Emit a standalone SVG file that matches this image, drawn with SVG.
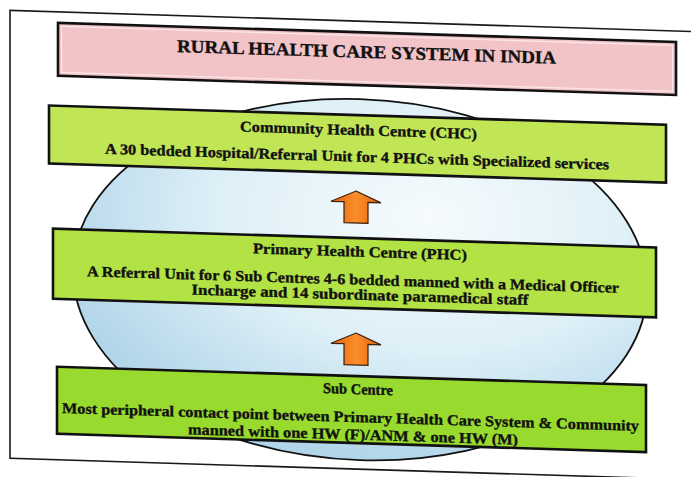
<svg xmlns="http://www.w3.org/2000/svg" width="691" height="477" viewBox="0 0 691 477">
  <defs>
    <radialGradient id="ellGrad" cx="0.62" cy="0.32" r="0.75">
      <stop offset="0" stop-color="#f6fbfd"/>
      <stop offset="0.5" stop-color="#ddeff7"/>
      <stop offset="1" stop-color="#a9d0e6"/>
    </radialGradient>
    <linearGradient id="arrowGrad" x1="0" y1="0" x2="1" y2="0">
      <stop offset="0" stop-color="#e6600c"/>
      <stop offset="0.5" stop-color="#fb8f2c"/>
      <stop offset="1" stop-color="#e6600c"/>
    </linearGradient>
    <style>
      .frame { fill: #ffffff; stroke: #1a1a1a; stroke-width: 1.6; }
      .ell { fill: url(#ellGrad); stroke: #111111; stroke-width: 1.8; }
      .pink { fill: #f2c3c7; stroke: #111111; stroke-width: 2.6; }
      .pinkInner { fill: none; stroke: #fbe9ea; stroke-width: 1.2; }
      .green { stroke: #111111; stroke-width: 2.6; }
      .arrow { fill: url(#arrowGrad); stroke: #3a2010; stroke-width: 1.2; }
      text { font-family: "Liberation Serif", "Times New Roman", serif; font-weight: bold; fill: #111111; stroke: #111111; stroke-width: 0.35; text-anchor: middle; }
      .title { font-size: 18px; }
      .t { font-size: 15px; }
    </style>
  </defs>
  <rect x="0" y="0" width="691" height="477" fill="#ffffff"/>
  <g transform="skewY(1.78)">
    <rect class="frame" x="10" y="10" width="700" height="448"/>
    <ellipse class="ell" cx="360" cy="268.5" rx="287" ry="180.5"/>

    <g id="title">
      <rect class="pink" x="58" y="21" width="618" height="53"/>
      <rect class="pinkInner" x="61.5" y="24.5" width="611" height="46"/>
      <text class="title" x="366.5" y="46.5" textLength="379" lengthAdjust="spacingAndGlyphs">RURAL HEALTH CARE SYSTEM IN INDIA</text>
    </g>

    <g id="connectors">
      <path class="arrow" d="M356,180 L381,191 L368,191 L368,212 L344,212 L344,191 L331,191 Z"/>
      <path class="arrow" d="M356,322 L381,333 L368,333 L368,354 L344,354 L344,333 L331,333 Z"/>
    </g>

    <g id="chc">
      <rect class="green" x="49" y="104" width="617" height="58" fill="#c0e656"/>
      <text class="t" x="358.5" y="124" textLength="237" lengthAdjust="spacingAndGlyphs">Community Health Centre (CHC)</text>
      <text class="t" x="357" y="150.5" textLength="504" lengthAdjust="spacingAndGlyphs">A 30 bedded Hospital/Referral Unit for 4 PHCs with Specialized services</text>
    </g>

    <g id="phc">
      <rect class="green" x="53" y="227" width="603" height="70" fill="#b2e244"/>
      <text class="t" x="360" y="245.5" textLength="214" lengthAdjust="spacingAndGlyphs">Primary Health Centre (PHC)</text>
      <text class="t" x="353" y="273.5" textLength="532" lengthAdjust="spacingAndGlyphs">A Referral Unit for 6 Sub Centres 4-6 bedded manned with a Medical Officer</text>
      <text class="t" x="360" y="288.5" textLength="337" lengthAdjust="spacingAndGlyphs">Incharge and 14 subordinate paramedical staff</text>
    </g>

    <g id="subcentre">
      <rect class="green" x="57" y="365" width="589" height="67" fill="#98da2e"/>
      <text class="t" x="358" y="383" textLength="70" lengthAdjust="spacingAndGlyphs">Sub Centre</text>
      <text class="t" x="350.5" y="411" textLength="577" lengthAdjust="spacingAndGlyphs">Most peripheral contact point between Primary Health Care System &amp; Community</text>
      <text class="t" x="353" y="428.5" textLength="330" lengthAdjust="spacingAndGlyphs">manned with one HW (F)/ANM &amp; one HW (M)</text>
    </g>
  </g>
</svg>
